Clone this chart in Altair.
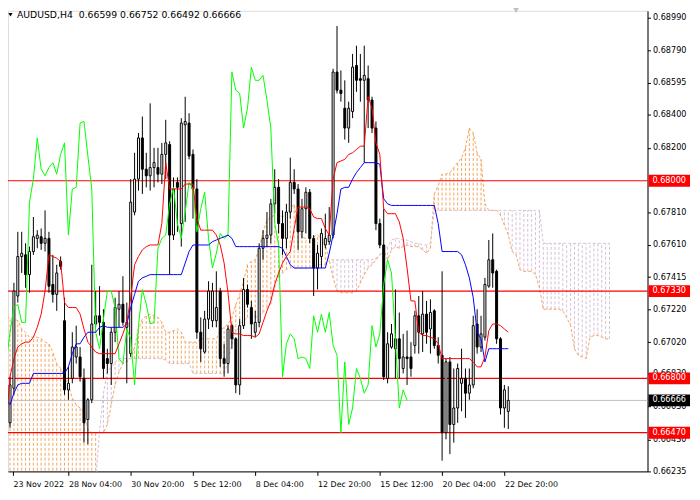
import altair as alt
import pandas as pd

# ---------------- data (AUDUSD H4 bars) ----------------
OPEN = [0.6659, 0.6653, 0.6674, 0.6730, 0.6754, 0.6755, 0.6743, 0.6757, 0.6765, 0.6766,
        0.6762, 0.6765, 0.6737, 0.6731, 0.6751, 0.6715, 0.6673, 0.6680, 0.6693, 0.6693,
        0.6680, 0.6655, 0.6667, 0.6713, 0.6718, 0.6714, 0.6692, 0.6689, 0.6708, 0.6722,
        0.6725, 0.6711, 0.6695, 0.6781, 0.6801, 0.6826, 0.6807, 0.6803, 0.6808, 0.6808,
        0.6804, 0.6816, 0.6822, 0.6767, 0.6799, 0.6774, 0.6834, 0.6835, 0.6816, 0.6795,
        0.6708, 0.6696, 0.6716, 0.6715, 0.6715, 0.6733, 0.6692, 0.6689, 0.6712, 0.6704,
        0.6676, 0.6712, 0.6734, 0.6723, 0.6708, 0.6714, 0.6759, 0.6765, 0.6767, 0.6786,
        0.6796, 0.6774, 0.6765, 0.6781, 0.6799, 0.6795, 0.6769, 0.6783, 0.6793, 0.6765,
        0.6747, 0.6754, 0.6761, 0.6763, 0.6767, 0.6866, 0.6855, 0.6844, 0.6832, 0.6842,
        0.6870, 0.6862, 0.6861, 0.6862, 0.6849, 0.6832, 0.6774, 0.6761, 0.6680, 0.6699,
        0.6698, 0.6704, 0.6686, 0.6693, 0.6693, 0.6700, 0.6718, 0.6707, 0.6719, 0.6710,
        0.6721, 0.6700, 0.6694, 0.6647, 0.6690, 0.6652, 0.6662, 0.6677, 0.6680, 0.6671,
        0.6676, 0.6713, 0.6699, 0.6705, 0.6736, 0.6752, 0.6745, 0.6704, 0.6662, 0.66599]
HIGH = [0.6670, 0.6681, 0.6738, 0.6769, 0.6769, 0.6762, 0.6760, 0.6778, 0.6770, 0.6771,
        0.6782, 0.6769, 0.6755, 0.6749, 0.6754, 0.6729, 0.6687, 0.6708, 0.6712, 0.6699,
        0.6686, 0.6668, 0.6749, 0.6733, 0.6736, 0.6722, 0.6698, 0.6711, 0.6729, 0.6733,
        0.6742, 0.6726, 0.6801, 0.6817, 0.6829, 0.6839, 0.6817, 0.6847, 0.6820, 0.6820,
        0.6823, 0.6837, 0.6824, 0.6802, 0.6802, 0.6838, 0.6851, 0.6841, 0.6819, 0.6801,
        0.6717, 0.6721, 0.6739, 0.6738, 0.6745, 0.6735, 0.6701, 0.6712, 0.6713, 0.6705,
        0.6716, 0.6741, 0.6737, 0.6727, 0.6721, 0.6762, 0.6770, 0.6781, 0.6789, 0.6807,
        0.6801, 0.6782, 0.6786, 0.6814, 0.6807, 0.6798, 0.6789, 0.6796, 0.6795, 0.6767,
        0.6761, 0.6771, 0.6780, 0.6784, 0.6868, 0.6894, 0.6867, 0.6861, 0.6848, 0.6877,
        0.6882, 0.6877, 0.6882, 0.6870, 0.6851, 0.6836, 0.6777, 0.6783, 0.6708, 0.6713,
        0.6734, 0.6720, 0.6707, 0.6709, 0.6702, 0.6721, 0.6730, 0.6733, 0.6727, 0.6728,
        0.6722, 0.6705, 0.6745, 0.6692, 0.6693, 0.6686, 0.6689, 0.6698, 0.6686, 0.6686,
        0.6718, 0.6722, 0.6718, 0.6741, 0.6764, 0.6768, 0.6746, 0.6705, 0.6676, 0.66752]
LOW = [0.6641, 0.6650, 0.6670, 0.6726, 0.6744, 0.6735, 0.6732, 0.6755, 0.6759, 0.6758,
       0.6757, 0.6732, 0.6726, 0.6721, 0.6746, 0.6670, 0.6667, 0.6677, 0.6689, 0.6678,
       0.6641, 0.6640, 0.6665, 0.6711, 0.6706, 0.6680, 0.6683, 0.6676, 0.6702, 0.6711,
       0.6712, 0.6677, 0.6693, 0.6779, 0.6794, 0.6792, 0.6796, 0.6794, 0.6796, 0.6799,
       0.6798, 0.6801, 0.6743, 0.6764, 0.6769, 0.6760, 0.6775, 0.6813, 0.6777, 0.6704,
       0.6690, 0.6695, 0.6710, 0.6711, 0.6711, 0.6687, 0.6681, 0.6683, 0.6698, 0.6671,
       0.6670, 0.6710, 0.6723, 0.6704, 0.6705, 0.6711, 0.6752, 0.6760, 0.6762, 0.6780,
       0.6768, 0.6755, 0.6759, 0.6777, 0.6792, 0.6758, 0.6765, 0.6768, 0.6762, 0.6730,
       0.6734, 0.6747, 0.6759, 0.6761, 0.6765, 0.6853, 0.6848, 0.6825, 0.6823, 0.6838,
       0.6854, 0.6848, 0.6811, 0.6832, 0.6829, 0.6770, 0.6759, 0.6679, 0.6677, 0.6698,
       0.6680, 0.6680, 0.6683, 0.6676, 0.6681, 0.6695, 0.6695, 0.6696, 0.6701, 0.6695,
       0.6698, 0.6689, 0.6630, 0.6643, 0.6634, 0.6641, 0.6653, 0.6660, 0.6656, 0.6667,
       0.6674, 0.6695, 0.6696, 0.6703, 0.6735, 0.6735, 0.6701, 0.6658, 0.6650, 0.66492]
CLOSE = [0.6653, 0.6676, 0.6733, 0.6754, 0.6756, 0.6743, 0.6757, 0.6766, 0.6767, 0.6762,
         0.6765, 0.6736, 0.6731, 0.6744, 0.6748, 0.6673, 0.6677, 0.6699, 0.6699, 0.6681,
         0.6653, 0.6667, 0.6713, 0.6718, 0.6714, 0.6686, 0.6689, 0.6708, 0.6723, 0.6725,
         0.6714, 0.6714, 0.6787, 0.6801, 0.6826, 0.6807, 0.6803, 0.6808, 0.6811, 0.6804,
         0.6816, 0.6823, 0.6767, 0.6795, 0.6796, 0.6835, 0.6836, 0.6815, 0.6795, 0.6708,
         0.6698, 0.6716, 0.6733, 0.6733, 0.6723, 0.6692, 0.6689, 0.6710, 0.6704, 0.6676,
         0.6712, 0.6734, 0.6725, 0.6713, 0.6714, 0.6759, 0.6765, 0.6767, 0.6786, 0.6796,
         0.6774, 0.6765, 0.6781, 0.6799, 0.6795, 0.6769, 0.6783, 0.6793, 0.6765, 0.6747,
         0.6756, 0.6768, 0.6765, 0.6767, 0.6866, 0.6855, 0.6853, 0.6832, 0.6844, 0.6869,
         0.6861, 0.6861, 0.6864, 0.6849, 0.6832, 0.6774, 0.6761, 0.6681, 0.6701, 0.6707,
         0.6704, 0.6692, 0.6693, 0.6692, 0.6686, 0.6718, 0.6708, 0.6719, 0.6708, 0.6720,
         0.6700, 0.6694, 0.6647, 0.6690, 0.6652, 0.6662, 0.6686, 0.6680, 0.6671, 0.6676,
         0.6712, 0.6699, 0.6707, 0.6737, 0.6752, 0.6744, 0.6704, 0.6662, 0.6673, 0.66666]

# Ichimoku lines
TENKAN = [0.6652, 0.6681, 0.6692, 0.6699, 0.6701, 0.6702, 0.6702, 0.6705, 0.6711, 0.6719,
          0.6733, 0.6755, 0.6754, 0.6753, 0.6751, 0.6726, 0.6723, 0.6723, 0.6723, 0.6719,
          0.6710, 0.6702, 0.6699, 0.6696, 0.6695, 0.6695, 0.6695, 0.6695, 0.6695, 0.6701,
          0.6707, 0.6714, 0.6729, 0.6749, 0.6754, 0.6758, 0.6760, 0.6761, 0.6761, 0.6761,
          0.6774, 0.6811, 0.6795, 0.6795, 0.6795, 0.6795, 0.6798, 0.6798, 0.6798, 0.6777,
          0.6770, 0.6770, 0.6770, 0.6770, 0.6767, 0.6761, 0.6750, 0.6732, 0.6708, 0.6707,
          0.6707, 0.6706, 0.6706, 0.6706, 0.6705, 0.6707, 0.6714, 0.6721, 0.6727, 0.6737,
          0.6744, 0.6750, 0.6754, 0.6757, 0.6771, 0.6784, 0.6784, 0.6784, 0.6783, 0.6778,
          0.6777, 0.6777, 0.6771, 0.6767, 0.6801, 0.6811, 0.6812, 0.6813, 0.6816, 0.6817,
          0.6819, 0.6821, 0.6821, 0.6851, 0.6844, 0.6823, 0.6816, 0.6783, 0.6780, 0.6780,
          0.6780, 0.6775, 0.6765, 0.6747, 0.6727, 0.6727, 0.6708, 0.6706, 0.6706, 0.6705,
          0.6704, 0.6701, 0.6692, 0.6692, 0.6692, 0.6692, 0.6692, 0.6692, 0.6692, 0.6692,
          0.6690, 0.6687, 0.6687, 0.6693, 0.6709, 0.6713, 0.6713, 0.6712, 0.6710, 0.6708]
KIJUN = [0.6667, 0.6664, 0.6671, 0.6676, 0.6677, 0.6677, 0.6677, 0.6683, 0.6683, 0.6683,
         0.6683, 0.6683, 0.6683, 0.6683, 0.6683, 0.6683, 0.6687, 0.6695, 0.6701, 0.6701,
         0.6705, 0.6708, 0.6708, 0.6708, 0.6711, 0.6712, 0.6711, 0.6711, 0.6711, 0.6711,
         0.6711, 0.6713, 0.6723, 0.6731, 0.6739, 0.6741, 0.6742, 0.6743, 0.6743, 0.6743,
         0.6743, 0.6743, 0.6743, 0.6743, 0.6743, 0.6743, 0.6750, 0.6757, 0.6761, 0.6761,
         0.6761, 0.6761, 0.6761, 0.6763, 0.6764, 0.6765, 0.6766, 0.6767, 0.6765, 0.6760,
         0.6760, 0.6760, 0.6760, 0.6760, 0.6760, 0.6760, 0.6760, 0.6760, 0.6760, 0.6760,
         0.6760, 0.6759, 0.6754, 0.6749, 0.6747, 0.6747, 0.6747, 0.6747, 0.6747, 0.6747,
         0.6747, 0.6747, 0.6747, 0.6756, 0.6767, 0.6780, 0.6795, 0.6796, 0.6796, 0.6801,
         0.6805, 0.6808, 0.6811, 0.6811, 0.6811, 0.6811, 0.6810, 0.6789, 0.6786, 0.6785,
         0.6785, 0.6785, 0.6785, 0.6785, 0.6785, 0.6785, 0.6785, 0.6785, 0.6785, 0.6785,
         0.6785, 0.6774, 0.6757, 0.6757, 0.6757, 0.6757, 0.6757, 0.6755, 0.6749, 0.6741,
         0.6729, 0.6708, 0.6704, 0.6690, 0.6698, 0.6698, 0.6698, 0.6698, 0.6698, 0.6698]
SPAN_A = [0.6717, 0.6717, 0.6716, 0.6715, 0.6710, 0.6708, 0.6705, 0.6705, 0.6705, 0.6704,
          0.6702, 0.6701, 0.6696, 0.6689, 0.6686, 0.6681, 0.6676, 0.6668, 0.6664, 0.6662,
          0.6660, 0.6649, 0.6647, 0.6647, 0.6647, 0.6647, 0.6652, 0.6664, 0.6676, 0.6684,
          0.6689, 0.6690, 0.6692, 0.6699, 0.6710, 0.6716, 0.6718, 0.6719, 0.6718, 0.6717,
          0.6714, 0.6708, 0.6708, 0.6709, 0.6710, 0.6708, 0.6702, 0.6702, 0.6702, 0.6702,
          0.6704, 0.6704, 0.6704, 0.6704, 0.6704, 0.6709, 0.6711, 0.6713, 0.6717, 0.6725,
          0.6731, 0.6739, 0.6749, 0.6751, 0.6752, 0.6759, 0.6769, 0.6776, 0.6778, 0.6779,
          0.6779, 0.6778, 0.6780, 0.6783, 0.6786, 0.6771, 0.6766, 0.6765, 0.6765, 0.6766,
          0.6767, 0.6765, 0.6761, 0.6752, 0.6741, 0.6733, 0.6732, 0.6732, 0.6732, 0.6732,
          0.6733, 0.6738, 0.6743, 0.6747, 0.6749, 0.6752, 0.6755, 0.6758, 0.6752, 0.6758,
          0.6760, 0.6759, 0.6760, 0.6761, 0.6760, 0.6760, 0.6760, 0.6758, 0.6756, 0.6759,
          0.6792, 0.6797, 0.6804, 0.6804, 0.6805, 0.6808, 0.6811, 0.6814, 0.6820, 0.6832,
          0.6829, 0.6817, 0.6813, 0.6786, 0.6782, 0.6782, 0.6782, 0.6779, 0.6773, 0.6767,
          0.6757, 0.6755, 0.6746, 0.6745, 0.6745, 0.6745, 0.6743, 0.6735, 0.6722, 0.6722,
          0.6722, 0.6722, 0.6722, 0.6721, 0.6717, 0.6712, 0.6698, 0.6694, 0.6693, 0.6692,
          0.6705, 0.6706, 0.6706, 0.6705, 0.6704, 0.6704]
SPAN_B = [0.6600, 0.6600, 0.6600, 0.6600, 0.6600, 0.6600, 0.6600, 0.6600, 0.6600, 0.6600,
          0.6600, 0.6600, 0.6600, 0.6600, 0.6600, 0.6600, 0.6600, 0.6600, 0.6600, 0.6600,
          0.6600, 0.6600, 0.6600, 0.6618, 0.6648, 0.6671, 0.6684, 0.6687, 0.6690, 0.6692,
          0.6692, 0.6692, 0.6692, 0.6692, 0.6692, 0.6692, 0.6692, 0.6692, 0.6692, 0.6692,
          0.6692, 0.6691, 0.6689, 0.6689, 0.6689, 0.6689, 0.6689, 0.6689, 0.6683, 0.6683,
          0.6683, 0.6683, 0.6683, 0.6683, 0.6683, 0.6683, 0.6683, 0.6690, 0.6701, 0.6708,
          0.6713, 0.6715, 0.6717, 0.6717, 0.6717, 0.6718, 0.6720, 0.6723, 0.6725, 0.6735,
          0.6741, 0.6744, 0.6746, 0.6747, 0.6747, 0.6747, 0.6747, 0.6747, 0.6747, 0.6748,
          0.6749, 0.6749, 0.6749, 0.6752, 0.6752, 0.6752, 0.6752, 0.6752, 0.6752, 0.6752,
          0.6752, 0.6752, 0.6752, 0.6752, 0.6752, 0.6753, 0.6755, 0.6757, 0.6760, 0.6764,
          0.6765, 0.6765, 0.6764, 0.6764, 0.6763, 0.6762, 0.6762, 0.6761, 0.6761, 0.6762,
          0.6782, 0.6782, 0.6782, 0.6782, 0.6782, 0.6782, 0.6782, 0.6782, 0.6782, 0.6782,
          0.6782, 0.6782, 0.6782, 0.6782, 0.6782, 0.6782, 0.6782, 0.6782, 0.6782, 0.6782,
          0.6782, 0.6782, 0.6782, 0.6782, 0.6782, 0.6782, 0.6782, 0.6782, 0.6762, 0.6762,
          0.6762, 0.6762, 0.6762, 0.6762, 0.6762, 0.6762, 0.6762, 0.6762, 0.6762, 0.6762,
          0.6762, 0.6762, 0.6762, 0.6762, 0.6762, 0.6762]
CHIKOU_SHIFT = 26

LEVELS = [0.68000, 0.67330, 0.66800, 0.66470]
X_TICK_BARS = [1.75, 16, 32, 48, 64, 80, 96, 112, 128]
X_TICK_LABELS = ["23 Nov 2022", "28 Nov 04:00", "30 Nov 20:00", "5 Dec 12:00", "8 Dec 04:00",
                 "12 Dec 20:00", "15 Dec 12:00", "20 Dec 04:00", "22 Dec 20:00"]
Y_TICKS = [0.68990, 0.68790, 0.68595, 0.68400, 0.68200, 0.67810, 0.67610, 0.67415,
           0.67220, 0.67020, 0.66830, 0.66630, 0.66430, 0.66235]
SYMBOL = "AUDUSD,H4"

# ---------------- frames ----------------
n = len(CLOSE)
candles = pd.DataFrame({"bar": list(range(n)), "open": OPEN, "high": HIGH, "low": LOW, "close": CLOSE})
candles["dir"] = ["up" if c >= o else "down" for o, c in zip(OPEN, CLOSE)]

lines = pd.DataFrame({"bar": list(range(n)), "tenkan": TENKAN, "kijun": KIJUN})
chikou = pd.DataFrame({"bar": [i - CHIKOU_SHIFT for i in range(CHIKOU_SHIFT, n)],
                       "chikou": CLOSE[CHIKOU_SHIFT:]})
m = len(SPAN_A)
cloud = pd.DataFrame({"bar": list(range(m)), "a": SPAN_A, "b": SPAN_B})
cloud["lo"] = cloud[["a", "b"]].min(axis=1)
cloud["hi"] = cloud[["a", "b"]].max(axis=1)
cloud["kind"] = ["bull" if a >= b else "bear" for a, b in zip(SPAN_A, SPAN_B)]

last_price = CLOSE[-1]
level_df = pd.DataFrame({"price": LEVELS, "label": [f"{p:.5f}" for p in LEVELS]})
last_df = pd.DataFrame({"price": [last_price], "label": [f"{last_price:.5f}"]})
header = pd.DataFrame({"t": [f"{SYMBOL}\u00a0\u00a0{OPEN[-1]:.5f} {HIGH[-1]:.5f} {LOW[-1]:.5f} {CLOSE[-1]:.5f}"]})

# ---------------- scales / axes ----------------
W, H = 647, 466
FONT = "DejaVu Sans"
FSX = 8
FSY = 8.2
xscale = alt.Scale(domain=[1.75, 163.5], nice=False, zero=False)
yscale = alt.Scale(domain=[0.66235, 0.69032], nice=False, zero=False)
lab_js = "[" + ",".join(f"'{s}'" for s in X_TICK_LABELS) + "]"
tick_js = "[" + ",".join(str(v) for v in X_TICK_BARS) + "]"
xaxis = alt.Axis(values=X_TICK_BARS, labelExpr=f"{lab_js}[indexof({tick_js}, datum.value)]",
                 orient="bottom", title=None, grid=False, tickSize=4, labelPadding=5,
                 labelAlign="left", labelBaseline="top", labelFlush=False, labelOverlap=False,
                 labelBound=False, domainColor="black", tickColor="black", labelColor="black",
                 labelFont=FONT, labelFontSize=FSX)
yaxis = alt.Axis(values=Y_TICKS, format=".5f", orient="right", title=None, grid=False,
                 tickSize=3, labelPadding=2, labelAlign="left", labelBaseline="middle",
                 labelFlush=False, labelOverlap=False, labelBound=False, domainColor="black",
                 tickColor="black", labelColor="black", labelFont=FONT, labelFontSize=FSY)


def X(f):
    return alt.X(f, type="quantitative", scale=xscale, axis=xaxis)


def Y(f):
    return alt.Y(f, type="quantitative", scale=yscale, axis=yaxis)


base = alt.Chart(candles)

hatch = alt.Chart(cloud).mark_rule(strokeDash=[3, 2], strokeWidth=1, clip=True).encode(
    x=X("bar"), y=Y("lo"), y2="hi",
    color=alt.Color("kind:N", scale=alt.Scale(domain=["bull", "bear"], range=["#F4A460", "#D8BFD8"]), legend=None),
)
span_a = alt.Chart(cloud).mark_line(color="#F4A460", strokeDash=[3, 2], strokeWidth=1, clip=True).encode(
    x=X("bar"), y=Y("a"))
span_b = alt.Chart(cloud).mark_line(color="#D8BFD8", strokeDash=[3, 2], strokeWidth=1, clip=True).encode(
    x=X("bar"), y=Y("b"))

level_lines = alt.Chart(level_df).mark_rule(color="#FF0000", strokeWidth=1.2).encode(y=Y("price"))
last_line = alt.Chart(last_df).mark_rule(color="#C0C0C0", strokeWidth=1).encode(y=Y("price"))

wicks = base.mark_rule(color="black", strokeWidth=1, clip=True).encode(x=X("bar"), y=Y("low"), y2="high")
bodies = base.mark_bar(size=2, stroke="black", strokeWidth=1, clip=True).encode(
    x=X("bar"), y=Y("open"), y2="close",
    fill=alt.Fill("dir:N", scale=alt.Scale(domain=["up", "down"], range=["white", "black"]), legend=None),
)

chikou_line = alt.Chart(chikou).mark_line(color="#00FF00", strokeWidth=1, clip=True).encode(
    x=X("bar"), y=Y("chikou"))
kijun_line = alt.Chart(lines).mark_line(color="#0000FF", strokeWidth=1, clip=True).encode(
    x=X("bar"), y=Y("kijun"))
tenkan_line = alt.Chart(lines).mark_line(color="#FF0000", strokeWidth=1, clip=True).encode(
    x=X("bar"), y=Y("tenkan"))

box_path = "M0,-0.2857L2,-0.2857L2,0.2857L0,0.2857Z"
level_boxes = alt.Chart(level_df).mark_point(shape=box_path, filled=True, size=1764, opacity=1,
                                             strokeWidth=0, color="#FF0000").encode(
    x=alt.value(W + 1), y=Y("price"))
last_box = alt.Chart(last_df).mark_point(shape=box_path, filled=True, size=1764, opacity=1,
                                         strokeWidth=0, color="#000000").encode(
    x=alt.value(W + 1), y=Y("price"))
level_text = alt.Chart(level_df).mark_text(align="left", baseline="middle", font=FONT, fontSize=FSY,
                                           color="white").encode(
    x=alt.value(W + 5), y=Y("price"), text="label:N")
last_text = alt.Chart(last_df).mark_text(align="left", baseline="middle", font=FONT, fontSize=FSY,
                                         color="white").encode(
    x=alt.value(W + 5), y=Y("price"), text="label:N")

head_text = alt.Chart(header).mark_text(align="left", baseline="top", font=FONT, fontSize=9.4,
                                        color="black").encode(
    x=alt.value(9), y=alt.value(0), text="t:N")
head_tri = alt.Chart(header).mark_point(shape="triangle-down", filled=True, size=18, color="black",
                                        opacity=1).encode(x=alt.value(2.5), y=alt.value(4))
shift_tri = alt.Chart(header).mark_point(shape="triangle-down", filled=True, size=90, color="#C0C0C0",
                                         opacity=1).encode(x=alt.value(514), y=alt.value(-2))

chart = alt.layer(
    hatch, span_a, span_b, level_lines, last_line, wicks, bodies,
    chikou_line, kijun_line, tenkan_line,
    level_boxes, last_box, level_text, last_text, head_text, head_tri, shift_tri,
).properties(
    width=W, height=H,
    padding={"left": 0, "top": 0, "right": 45, "bottom": 18},
    autosize=alt.AutoSizeParams(type="none"),
).configure_view(strokeWidth=0).configure(background="white")

chart.save("out.html", embed_options={"renderer": "svg", "actions": False})
